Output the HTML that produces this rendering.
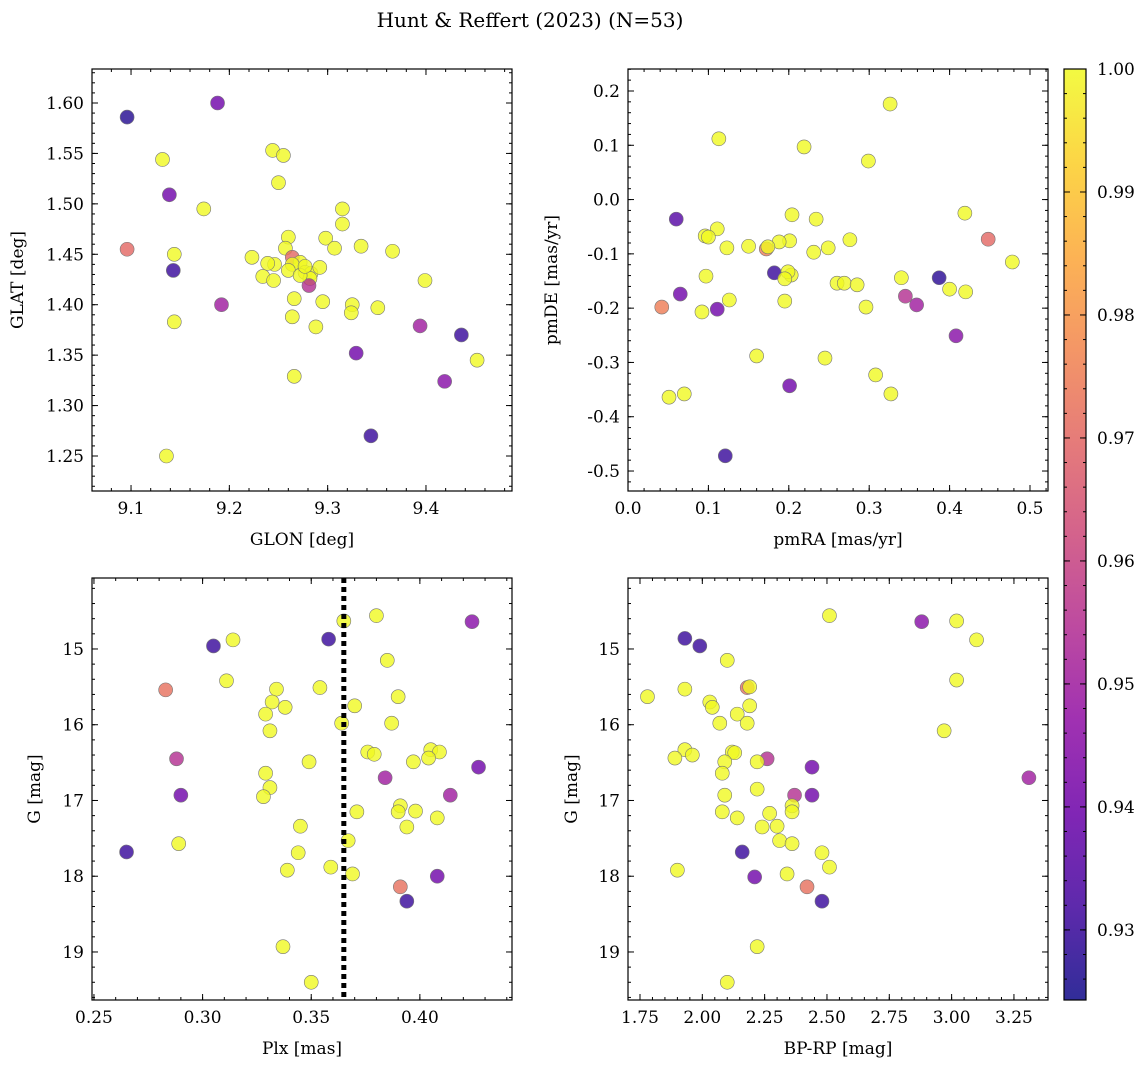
<!DOCTYPE html>
<html><head><meta charset="utf-8">
<style>
html,body{margin:0;padding:0;background:#fff;}
svg{display:block;font-family:"DejaVu Serif","Liberation Serif",serif;}
</style></head>
<body>
<svg id="fig" width="1148" height="1068" xmlns="http://www.w3.org/2000/svg">
<text x="530" y="27" text-anchor="middle" font-size="20">Hunt &amp; Reffert (2023) (N=53)</text>
</svg>
<script>
// Panel 1: GLON vs GLAT
const glon1 = [9.096,9.188,9.132,9.244,9.255,9.250,9.174,9.139,9.315,9.315,9.298,9.260,9.096,9.334,9.307,9.257,9.366,9.144,9.223,9.143,9.264,9.272,9.246,9.264,9.234,9.245,9.260,9.277,9.283,9.282,9.292,9.399,9.281,9.266,9.192,9.295,9.325,9.324,9.351,9.264,9.144,9.288,9.394,9.436,9.329,9.266,9.452,9.419,9.344,9.136,9.272,9.277,9.239];
const glat1 = [1.586,1.600,1.544,1.553,1.548,1.521,1.495,1.509,1.495,1.480,1.466,1.467,1.455,1.458,1.456,1.456,1.453,1.450,1.447,1.434,1.447,1.442,1.440,1.440,1.428,1.424,1.434,1.432,1.431,1.426,1.437,1.424,1.419,1.406,1.400,1.403,1.400,1.392,1.397,1.388,1.383,1.378,1.379,1.370,1.352,1.329,1.345,1.324,1.270,1.250,1.429,1.438,1.441];
const prob1 = [0.927,0.94,1,1,1,1,1,0.94,1,1,1,1,0.97,1,1,1,1,1,1,0.93,0.97,1,1,1,1,1,1,1,1,1,1,1,0.955,1,0.95,1,1,1,1,1,1,1,0.95,0.93,0.94,1,1,0.945,0.93,1,1,1,1];
// Panel 2: pmRA vs pmDE
const pmra2 = [0.326,0.113,0.219,0.299,0.060,0.419,0.204,0.234,0.111,0.448,0.096,0.100,0.276,0.201,0.188,0.150,0.249,0.172,0.174,0.123,0.231,0.478,0.182,0.097,0.203,0.199,0.195,0.340,0.387,0.260,0.269,0.285,0.400,0.420,0.065,0.345,0.126,0.195,0.359,0.042,0.296,0.092,0.111,0.408,0.160,0.245,0.201,0.308,0.051,0.070,0.327,0.121];
const pmde2 = [0.176,0.112,0.097,0.071,-0.036,-0.025,-0.028,-0.036,-0.054,-0.073,-0.067,-0.069,-0.074,-0.076,-0.078,-0.086,-0.089,-0.091,-0.087,-0.089,-0.097,-0.115,-0.135,-0.141,-0.139,-0.133,-0.146,-0.144,-0.144,-0.154,-0.154,-0.157,-0.165,-0.170,-0.174,-0.178,-0.185,-0.187,-0.194,-0.198,-0.198,-0.207,-0.202,-0.251,-0.288,-0.292,-0.343,-0.323,-0.364,-0.358,-0.358,-0.472];
const prob2 = [1,1,1,1,0.935,1,1,1,1,0.97,1,1,1,1,1,1,1,0.975,1,1,1,1,0.93,1,1,1,1,1,0.928,1,1,1,1,1,0.94,0.955,1,1,0.95,0.975,1,1,0.94,0.945,1,1,0.94,1,1,1,1,0.93];
// Panel 3: Plx vs G
const plx3 = [0.424,0.380,0.365,0.358,0.314,0.305,0.385,0.311,0.283,0.334,0.354,0.390,0.332,0.338,0.370,0.329,0.364,0.387,0.331,0.376,0.379,0.405,0.409,0.404,0.288,0.397,0.349,0.427,0.329,0.384,0.290,0.414,0.331,0.328,0.391,0.390,0.398,0.371,0.408,0.394,0.345,0.367,0.289,0.265,0.344,0.339,0.359,0.369,0.408,0.391,0.394,0.337,0.350];
const g3 = [14.64,14.56,14.63,14.87,14.88,14.96,15.15,15.42,15.54,15.53,15.51,15.63,15.70,15.77,15.75,15.86,15.98,15.98,16.08,16.36,16.39,16.33,16.36,16.44,16.45,16.49,16.49,16.56,16.64,16.70,16.93,16.93,16.83,16.95,17.07,17.15,17.14,17.15,17.23,17.35,17.34,17.53,17.57,17.68,17.69,17.92,17.88,17.97,18.00,18.14,18.33,18.93,19.40];
const prob3 = [0.945,1,1,0.93,1,0.93,1,1,0.972,1,1,1,1,1,1,1,1,1,1,1,1,1,1,1,0.955,1,1,0.94,1,0.95,0.94,0.95,1,1,1,1,1,1,1,1,1,1,1,0.93,1,1,1,1,0.94,0.972,0.93,1,1];
// Panel 4: BP-RP vs G
const bprp4 = [1.93,1.99,2.51,2.88,3.02,3.10,2.10,3.02,1.93,2.18,2.19,1.78,2.03,2.04,2.19,2.14,2.07,2.18,2.97,2.12,2.13,1.93,1.96,1.89,2.26,2.09,2.22,2.44,2.08,3.31,2.37,2.44,2.09,2.22,2.36,2.36,2.27,2.08,2.14,2.30,2.24,2.31,2.36,2.16,2.48,1.90,2.51,2.34,2.21,2.42,2.48,2.22,2.10];
const g4 = [14.86,14.96,14.56,14.64,14.63,14.88,15.15,15.41,15.53,15.51,15.50,15.63,15.70,15.77,15.75,15.86,15.98,15.98,16.08,16.36,16.37,16.33,16.40,16.44,16.45,16.49,16.49,16.56,16.64,16.70,16.93,16.93,16.93,16.85,17.07,17.15,17.17,17.15,17.23,17.34,17.35,17.53,17.57,17.68,17.69,17.92,17.88,17.97,18.01,18.14,18.33,18.93,19.40];
const prob4 = [0.93,0.93,1,0.945,1,1,1,1,1,0.972,1,1,1,1,1,1,1,1,1,1,1,1,1,1,0.955,1,1,0.94,1,0.95,0.955,0.94,1,1,1,1,1,1,1,1,1,1,1,0.93,1,1,1,1,0.94,0.972,0.93,1,1];
const plxLine = 0.365;
const cbTicks = [0.93,0.94,0.95,0.96,0.97,0.98,0.99,1.00];

const NS = "http://www.w3.org/2000/svg";
const svg = document.getElementById('fig');
function mk(tag, attrs, parent){const e=document.createElementNS(NS,tag);for(const k in attrs)e.setAttribute(k,attrs[k]);(parent||svg).appendChild(e);return e;}
const stops=[[13,8,135],[65,4,157],[106,0,168],[143,13,164],[177,42,144],[204,71,120],[225,100,98],[242,132,75],[252,166,54],[252,206,37],[240,249,33]];
const CMIN=0.9243, CMAX=1.0;
function plasma(v){let t=(v-CMIN)/(CMAX-CMIN);t=Math.max(0,Math.min(1,t));const f=t*10;const i=Math.min(9,Math.floor(f));const r=f-i;const a=stops[i],b=stops[i+1];return `rgb(${Math.round(a[0]+(b[0]-a[0])*r)},${Math.round(a[1]+(b[1]-a[1])*r)},${Math.round(a[2]+(b[2]-a[2])*r)})`;}

function panel(cfg){
  const {x0,y0,x1,y1,xmin,xmax,ymin,ymax,yinv,xt,xmin_,yt,ymin_,xlab,ylab,ylabX,xdec,ydec,name}=cfg;
  const sx=v=>x0+(v-xmin)/(xmax-xmin)*(x1-x0);
  const sy=v=>yinv? y0+(v-ymin)/(ymax-ymin)*(y1-y0) : y1-(v-ymin)/(ymax-ymin)*(y1-y0);
  const g=mk('g',{});
  
  
  const clip=mk('clipPath',{id:'clip-'+name},g);mk('rect',{x:x0-8,y:y0,width:x1-x0+8,height:y1-y0},clip);
  const pts=mk('g',{'clip-path':`url(#clip-${name})`},g);
  
  
  let vl=null;
  if(cfg.vline!==undefined){
    vl=mk('line',{x1:sx(cfg.vline),x2:sx(cfg.vline),y1:y0,y2:y1,stroke:'#000','stroke-width':5,'stroke-dasharray':'5,4'},g);
    
    
  }
  for(let i=0;i<cfg.xs.length;i++){
    const c=mk('circle',{cx:sx(cfg.xs[i]),cy:sy(cfg.ys[i]),r:7,fill:plasma(cfg.ps[i]),'fill-opacity':0.8,stroke:'#777','stroke-width':0.6},pts);
    
    
  }
  if(vl){ g.appendChild(vl); }
  const frame=mk('rect',{x:x0,y:y0,width:x1-x0,height:y1-y0,fill:'none',stroke:'#000','stroke-width':1.2},g);
  
  
  const e=1e-9;
  for(let v=Math.ceil(xmin/xmin_-e)*xmin_; v<=xmax+e; v+=xmin_){const X=sx(v);mk('line',{x1:X,x2:X,y1:y1,y2:y1-3,stroke:'#000'},g);mk('line',{x1:X,x2:X,y1:y0,y2:y0+3,stroke:'#000'},g);}
  for(const v of xt){const X=sx(v);mk('line',{x1:X,x2:X,y1:y1,y2:y1-6,stroke:'#000'},g);mk('line',{x1:X,x2:X,y1:y0,y2:y0+6,stroke:'#000'},g);
    const t=mk('text',{x:X,y:y1+23,'text-anchor':'middle','font-size':17},g);t.textContent=v.toFixed(xdec);
    
    }
  for(let v=Math.ceil(ymin/ymin_-e)*ymin_; v<=ymax+e; v+=ymin_){const Y=sy(v);mk('line',{x1:x0,x2:x0+3,y1:Y,y2:Y,stroke:'#000'},g);mk('line',{x1:x1,x2:x1-3,y1:Y,y2:Y,stroke:'#000'},g);}
  for(const v of yt){const Y=sy(v);mk('line',{x1:x0,x2:x0+6,y1:Y,y2:Y,stroke:'#000'},g);mk('line',{x1:x1,x2:x1-6,y1:Y,y2:Y,stroke:'#000'},g);
    const t=mk('text',{x:x0-8,y:Y+6,'text-anchor':'end','font-size':17},g);t.textContent=v.toFixed(ydec);
    
    }
  const xl=mk('text',{x:(x0+x1)/2,y:y1+54,'text-anchor':'middle','font-size':17},g);xl.textContent=xlab;
  
  
  const yl=mk('text',{x:ylabX,y:(y0+y1)/2,'text-anchor':'middle','font-size':17,transform:`rotate(-90 ${ylabX} ${(y0+y1)/2})`},g);yl.textContent=ylab;
  
  
}
panel({name:'glon-glat-panel',x0:92,y0:69,x1:512,y1:491,xmin:9.0603,xmax:9.4875,ymin:1.2153,ymax:1.6337,xt:[9.1,9.2,9.3,9.4],xmin_:0.02,yt:[1.25,1.30,1.35,1.40,1.45,1.50,1.55,1.60],ymin_:0.01,xlab:'GLON [deg]',ylab:'GLAT [deg]',ylabX:23,xdec:1,ydec:2,xs:glon1,ys:glat1,ps:prob1});
panel({name:'pm-panel',x0:628,y0:69,x1:1048,y1:491,xmin:0,xmax:0.5224,ymin:-0.5368,ymax:0.2405,xt:[0,0.1,0.2,0.3,0.4,0.5],xmin_:0.02,yt:[-0.5,-0.4,-0.3,-0.2,-0.1,0,0.1,0.2],ymin_:0.02,xlab:'pmRA [mas/yr]',ylab:'pmDE [mas/yr]',ylabX:557,xdec:1,ydec:1,xs:pmra2,ys:pmde2,ps:prob2});
panel({name:'plx-g-panel',x0:92,y0:578,x1:512,y1:1000,xmin:0.2491,xmax:0.4424,ymin:14.063,ymax:19.634,yinv:true,xt:[0.25,0.30,0.35,0.40],xmin_:0.01,yt:[15,16,17,18,19],ymin_:0.2,xlab:'Plx [mas]',ylab:'G [mag]',ylabX:40,xdec:2,ydec:0,xs:plx3,ys:g3,ps:prob3,vline:plxLine});
panel({name:'color-g-panel',x0:628,y0:578,x1:1048,y1:1000,xmin:1.7019,xmax:3.3866,ymin:14.063,ymax:19.634,yinv:true,xt:[1.75,2.0,2.25,2.5,2.75,3.0,3.25],xmin_:0.05,yt:[15,16,17,18,19],ymin_:0.2,xlab:'BP-RP [mag]',ylab:'G [mag]',ylabX:577,xdec:2,ydec:0,xs:bprp4,ys:g4,ps:prob4});
const cb=mk('g',{});


const defs=mk('defs',{},cb);const lg=mk('linearGradient',{id:'cbg',x1:0,y1:1,x2:0,y2:0},defs);
for(let i=0;i<=10;i++){mk('stop',{offset:i/10,'stop-color':`rgb(${stops[i].join(',')})`,'stop-opacity':0.85},lg);}
const CB={x0:1064,x1:1086,y0:69,y1:1000};
mk('rect',{x:CB.x0,y:CB.y0,width:CB.x1-CB.x0,height:CB.y1-CB.y0,fill:'url(#cbg)',stroke:'#000','stroke-width':1.2},cb);
const cy=v=>CB.y1-(v-CMIN)/(CMAX-CMIN)*(CB.y1-CB.y0);
for(let v=0.926;v<=1.0001;v+=0.002){const Y=cy(v);mk('line',{x1:CB.x1,x2:CB.x1-3,y1:Y,y2:Y,stroke:'#000'},cb);mk('line',{x1:CB.x0,x2:CB.x0+3,y1:Y,y2:Y,stroke:'#000'},cb);}
for(const v of cbTicks){const Y=cy(v);mk('line',{x1:CB.x1,x2:CB.x1-6,y1:Y,y2:Y,stroke:'#000'},cb);mk('line',{x1:CB.x0,x2:CB.x0+6,y1:Y,y2:Y,stroke:'#000'},cb);
  const t=mk('text',{x:CB.x1+11,y:Y+6,'font-size':17},cb);t.textContent=v.toFixed(2);
  
  }
</script>
</body></html>
